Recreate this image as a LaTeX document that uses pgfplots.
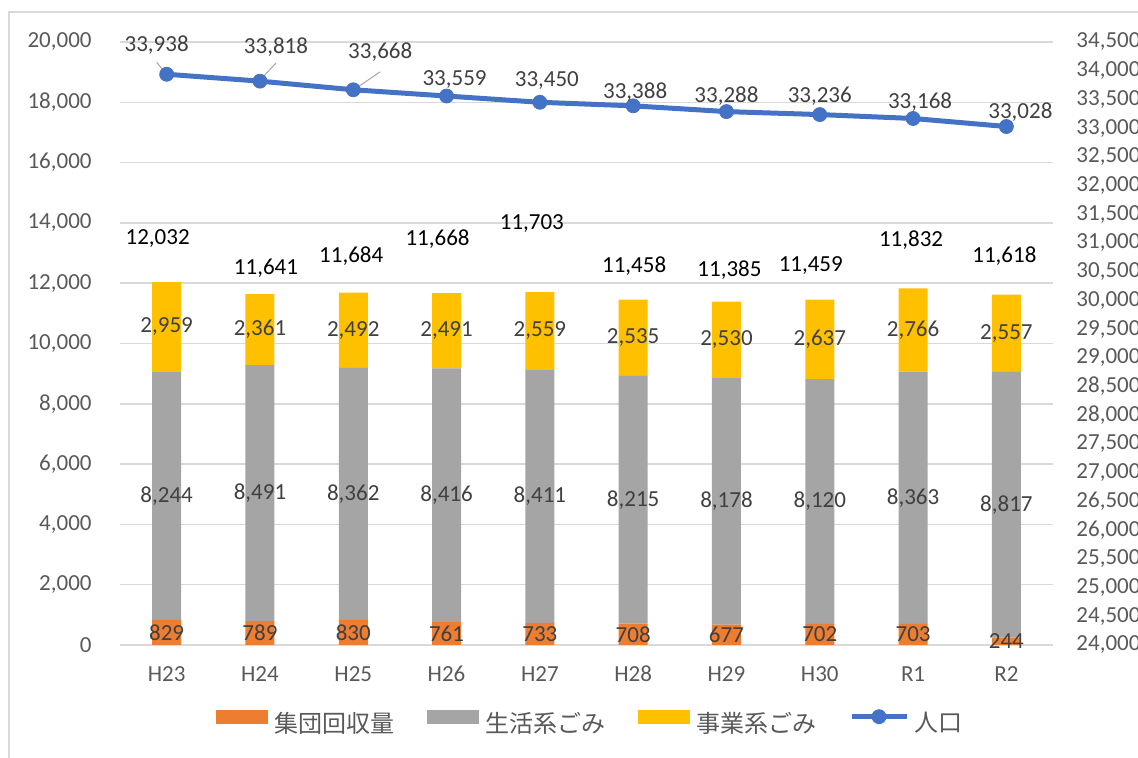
\documentclass[border=0pt]{standalone}
\usepackage{fontspec}
\setmainfont{Carlito}
\newfontfamily\cjk{Noto Sans CJK JP}
\usepackage{pgfplots}
\usepackage{pgfplotstable}
\pgfplotsset{compat=1.18}

\definecolor{cOrange}{HTML}{ED7D31}
\definecolor{cGray}{HTML}{A5A5A5}
\definecolor{cYellow}{HTML}{FFC000}
\definecolor{cBlue}{HTML}{4472C4}
\definecolor{gridc}{HTML}{D9D9D9}
\definecolor{tickc}{HTML}{595959}
\definecolor{labc}{HTML}{404040}
\definecolor{leaderc}{HTML}{A6A6A6}

\newcommand\lbl{\fontsize{11.5}{13.8}\selectfont}

% a: 集団回収量, b: 生活系ごみ, c: 事業系ごみ, pop: 人口
% tly/tdx: position of the total label, pdx/pdy: offset of the population label (pt)
\pgfplotstableread{
x cat a b c pop tly tdx pdx pdy
0 H23 829 8244 2959 33938 13466 -4.5 -5 14.5
1 H24 789 8491 2361 33818 12504 3 8 17
2 H25 830 8362 2492 33668 12902 -1 13.5 19
3 H26 761 8416 2491 33559 13466 -4.5 4 8.5
4 H27 733 8411 2559 33450 13963 -4 3.5 11
5 H28 708 8215 2535 33388 12570 0.5 1 7
6 H29 677 8178 2530 33288 12438 1.5 0 7.5
7 H30 702 8120 2637 33236 12570 -4.5 0 9
8 R1 703 8363 2766 33168 13433 -1 3.5 8
9 R2 244 8817 2557 33028 12902 -1 7 7
}\gomi

\pgfplotsset{
  base/.style={scale only axis, width=466.5pt, height=301.5pt,
    at={(60pt,56.5pt)}, anchor=south west, xmin=-0.5, xmax=9.5, clip=false},
  numfmt/.style={/pgf/number format/fixed, /pgf/number format/precision=0,
    /pgf/number format/1000 sep={,}, /pgf/number format/assume math mode=true},
  barleg/.style={legend image code/.code={%
    \fill[##1] (0pt,-0.3pt) rectangle (26pt,6.7pt); \path (29pt,0pt);}},
  lineleg/.style={legend image code/.code={%
    \draw[##1, mark repeat=2, mark phase=2] plot coordinates {(0pt,3.5pt) (13.75pt,3.5pt) (27.5pt,3.5pt)};
    \path (30pt,0pt);}},
}

\begin{document}
\begin{tikzpicture}
\useasboundingbox (0pt,0pt) rectangle (569pt,379pt);
\draw[gridc, line width=1pt] (4.5pt,-2pt) -- (4.5pt,373pt) -- (575pt,373pt);

% stacked bars on the left axis
\begin{axis}[base, ybar stacked, bar width=14.5pt,
  ymin=0, ymax=20000, ytick={0,2000,...,20000}, scaled y ticks=false,
  xtick={0,...,9}, xticklabels={H23,H24,H25,H26,H27,H28,H29,H30,R1,R2},
  ymajorgrids, grid style={gridc, line width=0.75pt},
  axis line style={draw=none}, major tick length=0pt,
  tick label style={font=\lbl, text=tickc},
  yticklabel style={anchor=east, inner sep=0pt, xshift=-14pt},
  xticklabel style={anchor=base, inner sep=0pt, yshift=-18.5pt},
  numfmt]
\addplot[fill=cOrange, draw=none] table[x=x, y=a]{\gomi};
\addplot[fill=cGray, draw=none] table[x=x, y=b]{\gomi};
\addplot[fill=cYellow, draw=none] table[x=x, y=c]{\gomi};
\end{axis}

% segment values and totals
\begin{axis}[base, ymin=0, ymax=20000, hide axis, numfmt,
  every node near coord/.append style={font=\lbl, text=labc, anchor=center, inner sep=0pt}]
\addplot[draw=none, nodes near coords, point meta=explicit]
  table[x=x, y expr=\thisrow{a}/2, meta=a]{\gomi};
\addplot[draw=none, nodes near coords, point meta=explicit]
  table[x=x, y expr=\thisrow{a}+\thisrow{b}/2, meta=b]{\gomi};
\addplot[draw=none, nodes near coords, point meta=explicit]
  table[x=x, y expr=\thisrow{a}+\thisrow{b}+\thisrow{c}/2, meta=c]{\gomi};
\addplot[draw=none, nodes near coords,
  point meta={\thisrow{a}+\thisrow{b}+\thisrow{c}},
  visualization depends on={\thisrow{tdx} \as \tdx},
  every node near coord/.append style={text=black, xshift=\tdx pt}]
  table[x=x, y=tly]{\gomi};
\end{axis}

% population line on the right axis
\begin{axis}[base, ymin=24000, ymax=34500, ytick={24000,24500,...,34500},
  scaled y ticks=false, axis line style={draw=none}, major tick length=0pt,
  xtick=\empty, yticklabel pos=right,
  yticklabel style={anchor=west, inner sep=0pt, xshift=11.5pt, font=\lbl, text=tickc},
  numfmt,
  legend columns=4, legend cell align=left,
  legend style={draw=none, fill=none, inner sep=0pt, outer sep=0pt,
    at={(0.1029,-0.1285)}, anchor=west,
    font=\cjk\fontsize{12}{14}\selectfont, text=tickc,
    nodes={inner sep=0pt, anchor=west},
    /tikz/every even column/.append style={column sep=16.5pt},
    /tikz/column 6/.append style={column sep=12pt}}]
\addlegendimage{barleg, fill=cOrange, draw=none}
\addlegendimage{barleg, fill=cGray, draw=none}
\addlegendimage{barleg, fill=cYellow, draw=none}
\addplot[lineleg, color=cBlue, line width=2.5pt, line join=round,
  mark=*, mark size=3.5pt, mark options={solid, line width=0.4pt, fill=cBlue},
  nodes near coords, point meta=explicit,
  visualization depends on={\thisrow{pdx} \as \pdx},
  visualization depends on={\thisrow{pdy} \as \pdy},
  every node near coord/.append style={font=\lbl, text=labc, anchor=center,
    inner sep=0pt, xshift=\pdx pt, yshift=\pdy pt}]
  table[x=x, y=pop, meta=pop]{\gomi};
\draw[leaderc, line width=0.5pt] ([shift={(-0.5pt,0.5pt)}]axis cs:0,33938) -- ([shift={(-5pt,6pt)}]axis cs:0,33938);
\draw[leaderc, line width=0.5pt] ([shift={(0pt,0.5pt)}]axis cs:1,33818) -- ([shift={(8pt,9pt)}]axis cs:1,33818);
\draw[leaderc, line width=0.5pt] ([shift={(1pt,0.5pt)}]axis cs:2,33668) -- ([shift={(13.5pt,9pt)}]axis cs:2,33668);
\legend{集団回収量,生活系ごみ,事業系ごみ,人口}
\end{axis}
\end{tikzpicture}
\end{document}
